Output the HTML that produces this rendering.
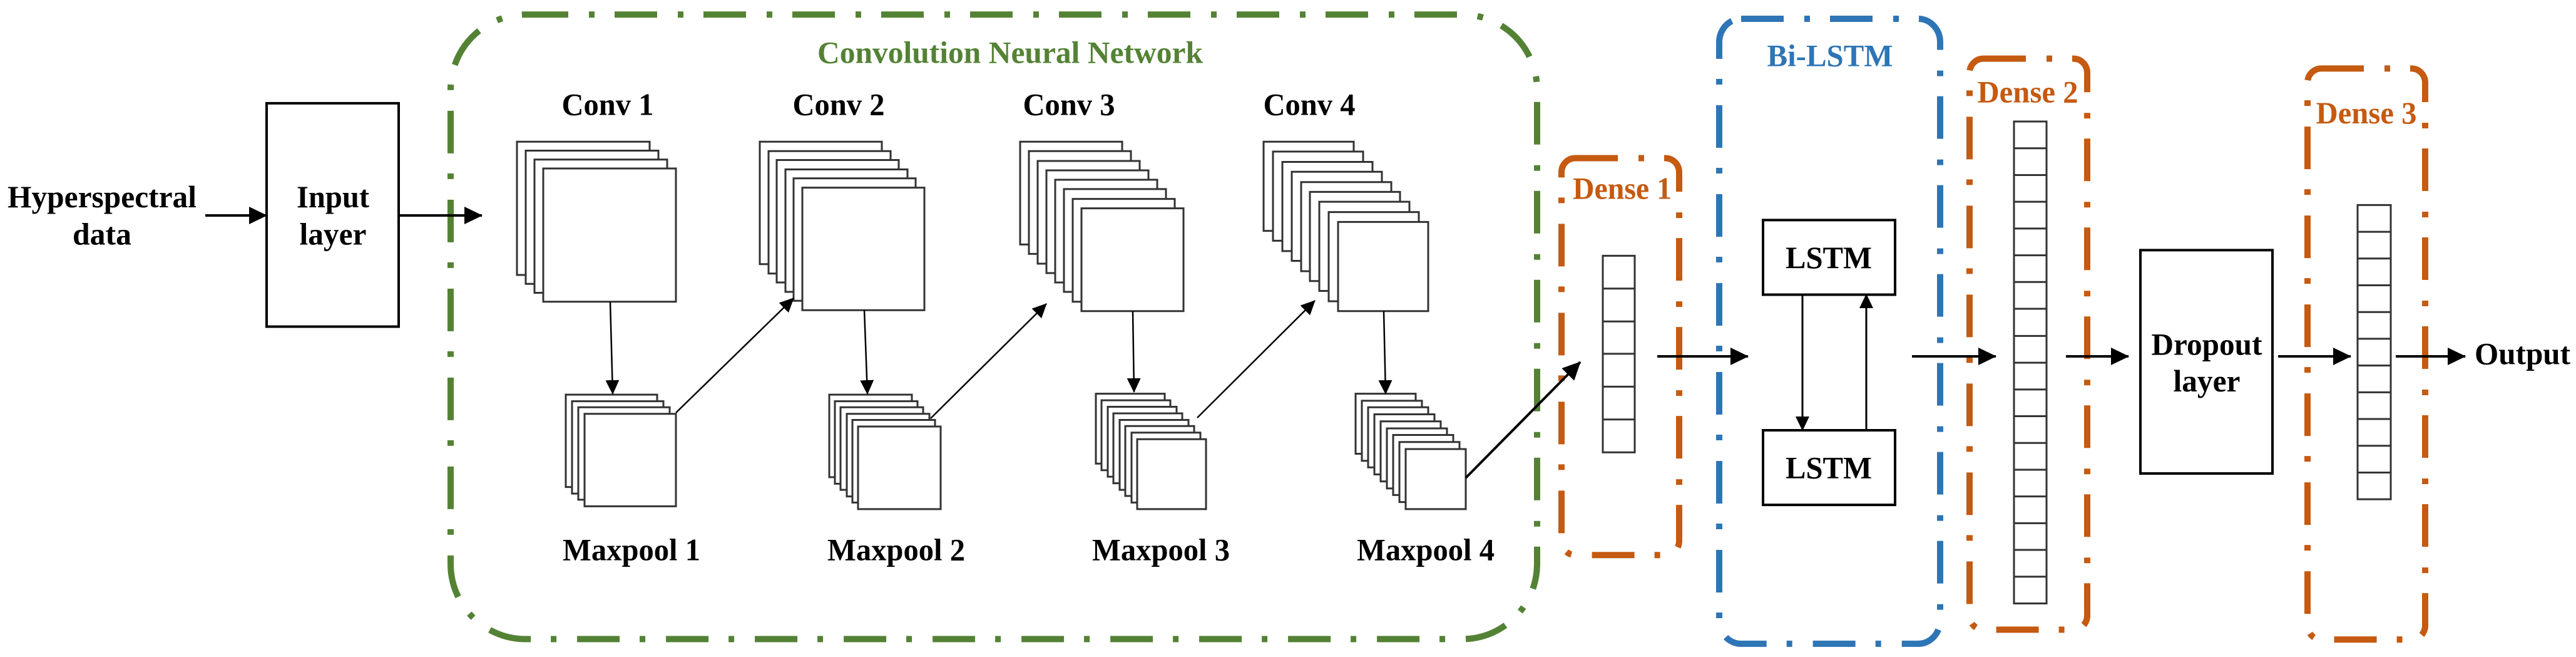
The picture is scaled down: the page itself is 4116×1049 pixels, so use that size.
<!DOCTYPE html>
<html><head><meta charset="utf-8"><style>html,body{margin:0;padding:0;background:#fff;overflow:hidden}svg{display:block}.n rect,.n path{vector-effect:non-scaling-stroke}</style></head>
<body>
<svg width="4116" height="1049" viewBox="0 0 4116 1049" xmlns="http://www.w3.org/2000/svg">
<defs>
<marker id="ah" markerWidth="30" markerHeight="30" refX="28" refY="14" orient="auto" markerUnits="userSpaceOnUse"><path d="M0,0 L29,14 L0,28 Z" fill="#000"/></marker>
<marker id="as" markerWidth="24" markerHeight="24" refX="22" refY="11" orient="auto" markerUnits="userSpaceOnUse"><path d="M0,0 L23,11 L0,22 Z" fill="#000"/></marker>
</defs>
<g class="n" transform="scale(1,0.7492)">
<g font-family="Liberation Serif, serif" font-weight="bold" font-size="67" text-anchor="middle">
<rect x="720" y="31" width="1736" height="1331" rx="120" ry="160" fill="none" stroke="#548235" stroke-width="10" stroke-dasharray="68 33 9 32"/>
<rect x="2495" y="337" width="188" height="846" rx="22" ry="30" fill="none" stroke="#C55A11" stroke-width="10" stroke-dasharray="68 33 9 32"/>
<rect x="2747" y="40" width="353" height="1332" rx="35" ry="50" fill="none" stroke="#2E75B6" stroke-width="10" stroke-dasharray="68 33 9 32"/>
<rect x="3147" y="125" width="188" height="1217" rx="22" ry="30" fill="none" stroke="#C55A11" stroke-width="10" stroke-dasharray="68 33 9 32"/>
<rect x="3687" y="146" width="188" height="1217" rx="22" ry="30" fill="none" stroke="#C55A11" stroke-width="10" stroke-dasharray="68 33 9 32"/>
<text x="163" y="442" textLength="302" lengthAdjust="spacingAndGlyphs">Hyperspectral</text>
<text x="163" y="521" textLength="94" lengthAdjust="spacingAndGlyphs">data</text>
<rect x="426" y="220" width="211" height="476" fill="none" stroke="#000" stroke-width="4"/>
<text x="532" y="442" textLength="116" lengthAdjust="spacingAndGlyphs">Input</text>
<text x="532" y="521" textLength="107" lengthAdjust="spacingAndGlyphs">layer</text>
<text x="1614" y="134" fill="#548235" textLength="616" lengthAdjust="spacingAndGlyphs">Convolution Neural Network</text>
<text x="971" y="245" textLength="147" lengthAdjust="spacingAndGlyphs">Conv 1</text>
<text x="1340" y="245" textLength="147" lengthAdjust="spacingAndGlyphs">Conv 2</text>
<text x="1708" y="245" textLength="147" lengthAdjust="spacingAndGlyphs">Conv 3</text>
<text x="2092" y="245" textLength="147" lengthAdjust="spacingAndGlyphs">Conv 4</text>
<text x="1009" y="1194" textLength="220" lengthAdjust="spacingAndGlyphs">Maxpool 1</text>
<text x="1432" y="1194" textLength="220" lengthAdjust="spacingAndGlyphs">Maxpool 2</text>
<text x="1855" y="1194" textLength="220" lengthAdjust="spacingAndGlyphs">Maxpool 3</text>
<text x="2278" y="1194" textLength="220" lengthAdjust="spacingAndGlyphs">Maxpool 4</text>
<text x="2592" y="424" fill="#C55A11" textLength="158" lengthAdjust="spacingAndGlyphs">Dense 1</text>
<text x="2924" y="141" fill="#2E75B6" textLength="201" lengthAdjust="spacingAndGlyphs">Bi-LSTM</text>
<text x="3240" y="218" fill="#C55A11" textLength="161" lengthAdjust="spacingAndGlyphs">Dense 2</text>
<text x="3781" y="263" fill="#C55A11" textLength="161" lengthAdjust="spacingAndGlyphs">Dense 3</text>
<rect x="2817" y="469" width="211" height="159" fill="none" stroke="#000" stroke-width="4"/>
<text x="2922" y="571" textLength="138" lengthAdjust="spacingAndGlyphs">LSTM</text>
<rect x="2817" y="917" width="211" height="159" fill="none" stroke="#000" stroke-width="4"/>
<text x="2922" y="1019" textLength="138" lengthAdjust="spacingAndGlyphs">LSTM</text>
<rect x="3420" y="533" width="211" height="476" fill="none" stroke="#000" stroke-width="4"/>
<text x="3526" y="756" textLength="177" lengthAdjust="spacingAndGlyphs">Dropout</text>
<text x="3526" y="834" textLength="107" lengthAdjust="spacingAndGlyphs">layer</text>
<text x="3954" y="776" text-anchor="start" textLength="153" lengthAdjust="spacingAndGlyphs">Output</text>
</g>
<g fill="#fff" stroke="#333" stroke-width="3">
<rect x="826" y="302" width="212" height="284"/><rect x="840" y="321" width="212" height="284"/><rect x="854" y="340" width="212" height="284"/><rect x="868" y="359" width="212" height="284"/>
<rect x="1214" y="302" width="195" height="261"/><rect x="1228" y="322" width="195" height="261"/><rect x="1241" y="341" width="195" height="261"/><rect x="1255" y="361" width="195" height="261"/><rect x="1268" y="380" width="195" height="261"/><rect x="1282" y="400" width="195" height="261"/>
<rect x="1630" y="302" width="163" height="219"/><rect x="1644" y="322" width="163" height="219"/><rect x="1658" y="343" width="163" height="219"/><rect x="1672" y="363" width="163" height="219"/><rect x="1686" y="383" width="163" height="219"/><rect x="1700" y="403" width="163" height="219"/><rect x="1714" y="424" width="163" height="219"/><rect x="1728" y="444" width="163" height="219"/>
<rect x="2019" y="302" width="144" height="190"/><rect x="2034" y="323" width="144" height="190"/><rect x="2049" y="345" width="144" height="190"/><rect x="2064" y="366" width="144" height="190"/><rect x="2079" y="388" width="144" height="190"/><rect x="2093" y="409" width="144" height="190"/><rect x="2108" y="430" width="144" height="190"/><rect x="2123" y="452" width="144" height="190"/><rect x="2138" y="473" width="144" height="190"/>
<rect x="904" y="841" width="146" height="197"/><rect x="914" y="855" width="146" height="197"/><rect x="924" y="868" width="146" height="197"/><rect x="934" y="882" width="146" height="197"/>
<rect x="1325" y="841" width="132" height="176"/><rect x="1334" y="855" width="132" height="176"/><rect x="1343" y="868" width="132" height="176"/><rect x="1353" y="882" width="132" height="176"/><rect x="1362" y="895" width="132" height="176"/><rect x="1371" y="909" width="132" height="176"/>
<rect x="1751" y="839" width="110" height="149"/><rect x="1760" y="853" width="110" height="149"/><rect x="1770" y="867" width="110" height="149"/><rect x="1779" y="881" width="110" height="149"/><rect x="1789" y="895" width="110" height="149"/><rect x="1798" y="908" width="110" height="149"/><rect x="1808" y="922" width="110" height="149"/><rect x="1817" y="936" width="110" height="149"/>
<rect x="2166" y="839" width="96" height="128"/><rect x="2176" y="854" width="96" height="128"/><rect x="2186" y="868" width="96" height="128"/><rect x="2196" y="883" width="96" height="128"/><rect x="2206" y="898" width="96" height="128"/><rect x="2216" y="913" width="96" height="128"/><rect x="2226" y="927" width="96" height="128"/><rect x="2236" y="942" width="96" height="128"/><rect x="2246" y="957" width="96" height="128"/>
</g>
<g fill="none" stroke="#333" stroke-width="3">
<rect x="2561" y="545" width="51" height="419"/>
<path d="M2561 615H2612M2561 685H2612M2561 754H2612M2561 824H2612M2561 894H2612"/>
<rect x="3218" y="259" width="52" height="1027"/>
<path d="M3218 316H3270M3218 373H3270M3218 430H3270M3218 487H3270M3218 544H3270M3218 601H3270M3218 658H3270M3218 716H3270M3218 773H3270M3218 830H3270M3218 887H3270M3218 944H3270M3218 1001H3270M3218 1058H3270M3218 1115H3270M3218 1172H3270M3218 1229H3270"/>
<rect x="3767" y="437" width="53" height="627"/>
<path d="M3767 494H3820M3767 551H3820M3767 608H3820M3767 665H3820M3767 722H3820M3767 779H3820M3767 836H3820M3767 893H3820M3767 950H3820M3767 1007H3820"/>
</g>
</g>
<g stroke="#000" fill="none">
<g stroke-width="4" marker-end="url(#ah)">
<path d="M328 344H426"/><path d="M637 344H770"/>
<path d="M2648 569H2793"/><path d="M3055 569H3189"/><path d="M3301 569H3401"/><path d="M3640 569H3756"/><path d="M3828 569H3939"/>
<path d="M2342 763L2525 578"/>
</g>
<g stroke-width="2.5" marker-end="url(#as)">
<path d="M975 482L979 629"/><path d="M1080 659L1268 476"/>
<path d="M1381 495L1386 629"/><path d="M1487 668L1672 485"/>
<path d="M1810 497L1812 626"/><path d="M1913 667L2101 480"/>
<path d="M2211 497L2214 629"/>
</g>
<g stroke-width="3" marker-end="url(#as)">
<path d="M2880 470V687"/><path d="M2982 687V470"/>
</g>
</g>
</svg>
</body></html>
